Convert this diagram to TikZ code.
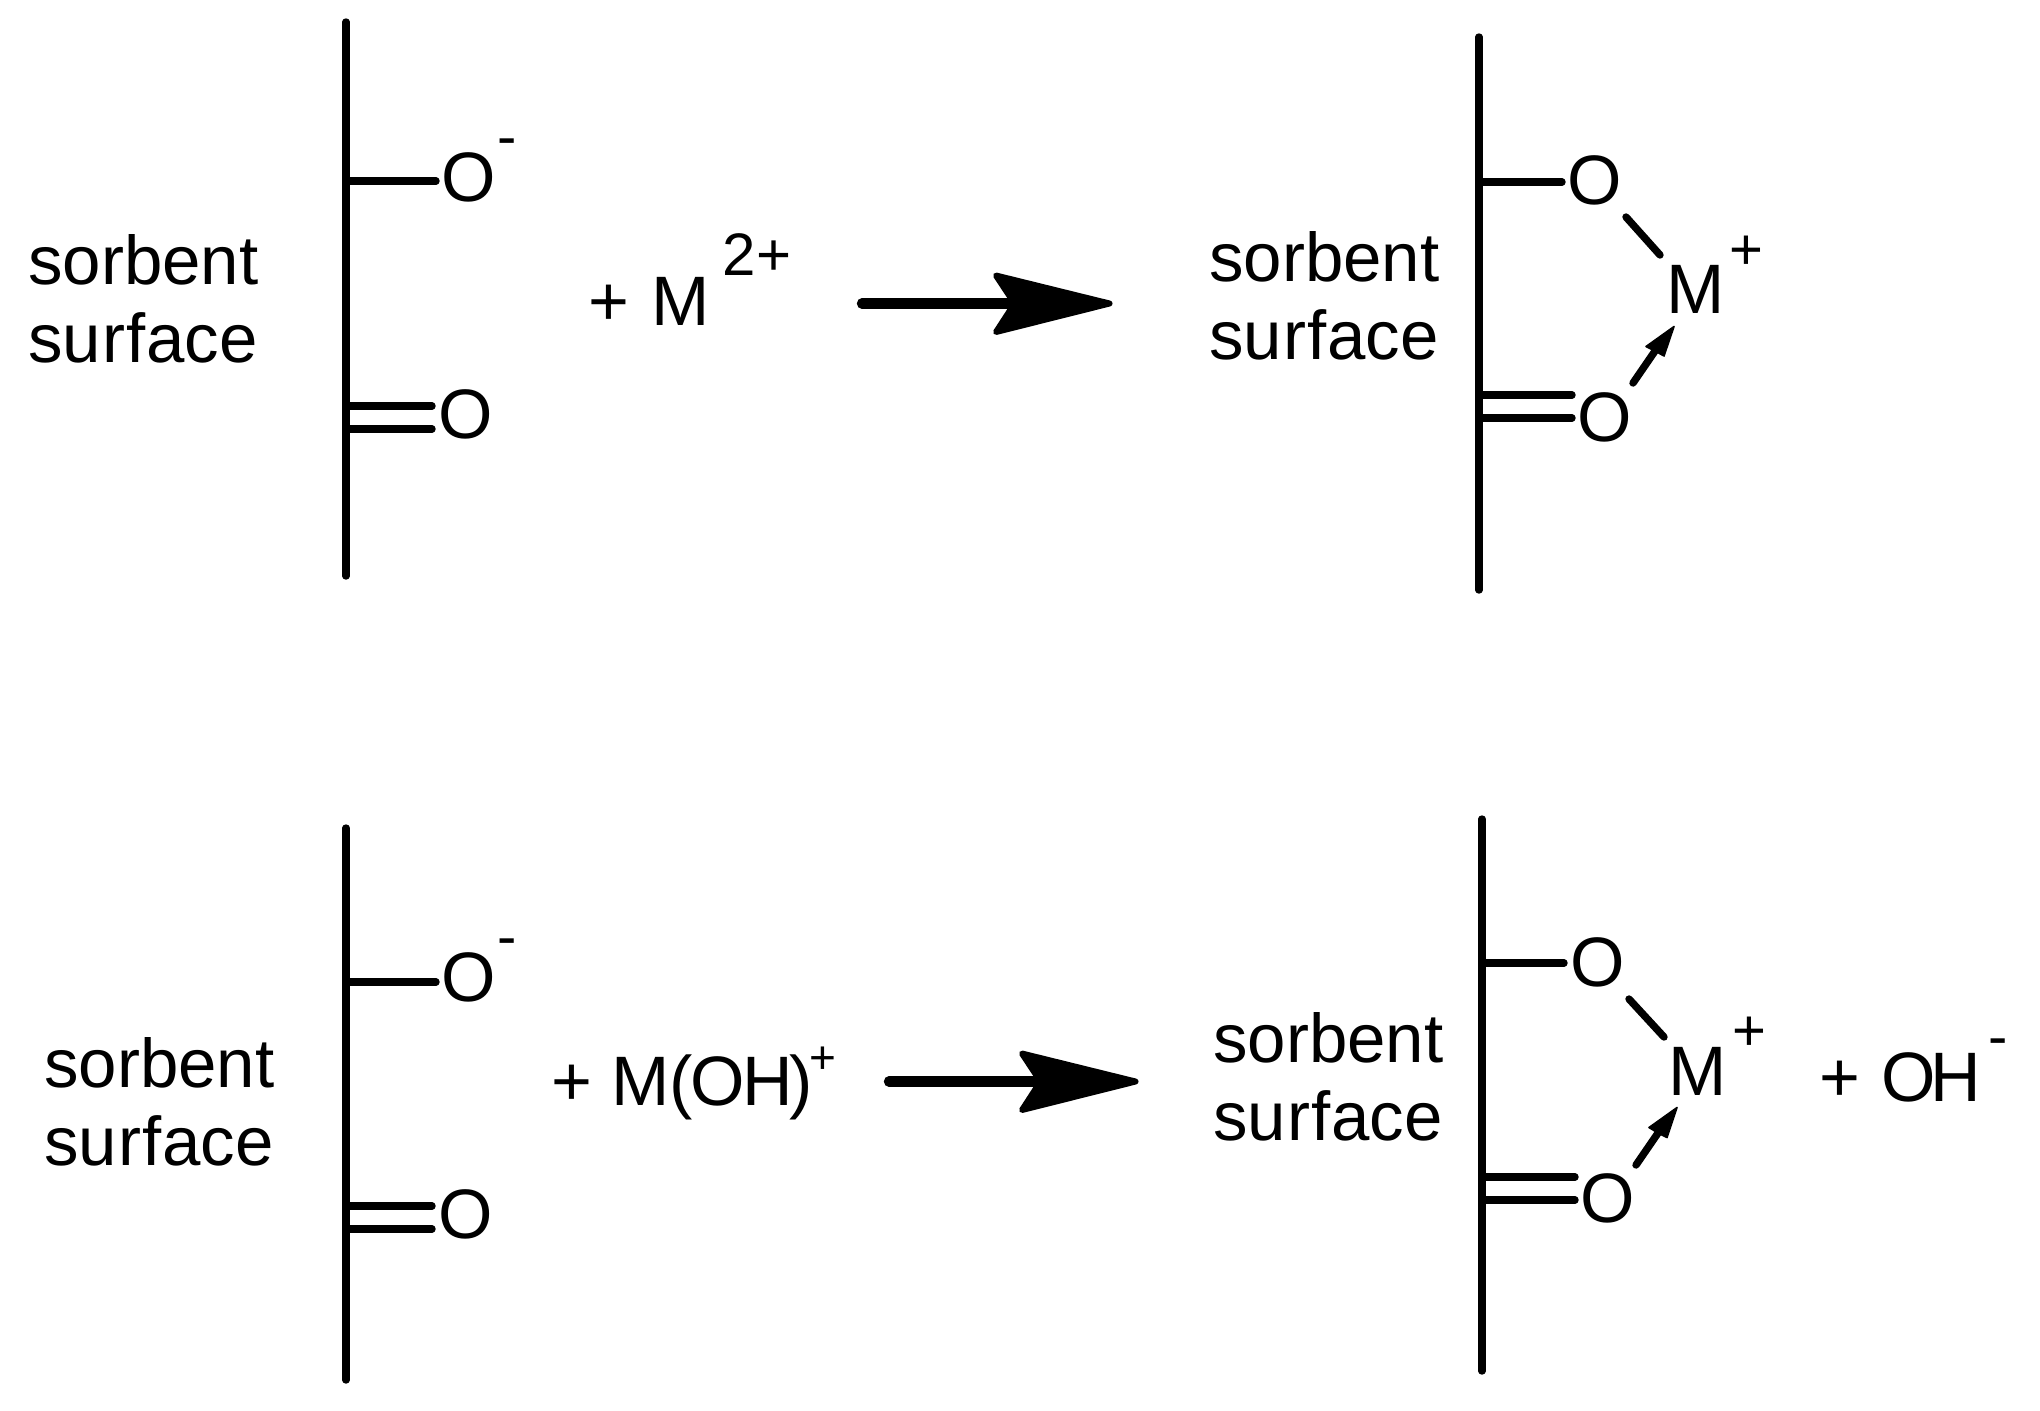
\documentclass[tikz,border=0pt]{standalone}
\usepackage{fontspec}
\setmainfont[Kerning=Off]{Liberation Sans}
\usetikzlibrary{arrows.meta}
\newcommand{\surfword}{su\kern.5pt r\kern.5pt f\kern.5pt ace}
\tikzset{
  x=0.5pt,y=-0.5pt,
  lab/.style={font=\fontsize{35}{35}\selectfont,inner sep=0pt,anchor=base},
  txt/.style={font=\fontsize{34.5}{34.5}\selectfont,inner sep=0pt,anchor=base west},
  supb/.style={font=\fontsize{30}{30}\selectfont,inner sep=0pt,anchor=base},
  supm/.style={font=\fontsize{29}{29}\selectfont,inner sep=0pt,anchor=base},
  sups/.style={font=\fontsize{23}{23}\selectfont,inner sep=0pt,anchor=base},
  wall/.style={line width=3.7pt,line cap=round},
  bond/.style={line width=3.7pt,line cap=round},
  shaft/.style={line width=5.2pt,line cap=round},
  bighead/.style={fill=black,draw=black,line width=3pt,line join=round},
  smallhead/.style={fill=black,draw=black,line width=0.8pt,line join=round}
}
\begin{document}
\begin{tikzpicture}
\useasboundingbox (0,0) rectangle (2040,1410);
% ---- top left
\coordinate (wa1) at (346,22); \coordinate (wa2) at (346,576);
\draw[wall] (wa1) -- (wa2);
\node[lab] (oa1) at (469,201) {O};
\node[supm] (ma1) at (507,156) {-};
\node[lab] (oa2) at (466,438) {O};
\coordinate (ba1) at (346,181); \coordinate (ba1e) at (436,181);
\draw[bond] (ba1) -- (ba1e);
\coordinate (ba2) at (349,406); \coordinate (ba2e) at (432,406);
\coordinate (ba3) at (349,429); \coordinate (ba3e) at (432,429);
\draw[bond] (ba2) -- (ba2e); \draw[bond] (ba3) -- (ba3e);
\node[txt] (ta1) at (28,284) {sorbent};
\node[txt] (ta2) at (28,362) {\surfword};
\node[lab] (pa) at (609,325) {+};
\node[lab] (ma) at (681,325) {M};
\node[supb] (ca) at (757,275) {2+};
\coordinate (aa1) at (862,303.5); \coordinate (aa2) at (1020,303.5);
\draw[shaft] (aa1) -- (aa2);
\coordinate (at) at (1109.5,303.5); \coordinate (au) at (996,275.5);
\coordinate (an) at (1014.5,303.5); \coordinate (ad) at (996,332);
\path[bighead] (at) -- (au) -- (an) -- (ad) -- cycle;
% ---- top right
\coordinate (wb1) at (1479,37); \coordinate (wb2) at (1479,590);
\draw[wall] (wb1) -- (wb2);
\node[lab] (ob1) at (1595,204) {O};
\node[lab] (ob2) at (1605,441) {O};
\node[lab] (mb) at (1696,313) {M};
\node[supm] (cb) at (1746,269) {+};
\coordinate (bb1) at (1479,182); \coordinate (bb1e) at (1562,182);
\draw[bond] (bb1) -- (bb1e);
\coordinate (bb2) at (1482,395); \coordinate (bb2e) at (1572,395);
\coordinate (bb3) at (1482,418); \coordinate (bb3e) at (1572,418);
\draw[bond] (bb2) -- (bb2e); \draw[bond] (bb3) -- (bb3e);
\coordinate (bb4) at (1626,217); \coordinate (bb4e) at (1660,255);
\draw[bond] (bb4) -- (bb4e);
\coordinate (bb5) at (1633,383); \coordinate (bb5e) at (1655,351);
\draw[bond] (bb5) -- (bb5e);
\coordinate (bh1) at (1674,326.5); \coordinate (bh2) at (1646,346.5);
\coordinate (bh3) at (1655,351); \coordinate (bh4) at (1664,356);
\path[smallhead] (bh1) -- (bh2) -- (bh3) -- (bh4) -- cycle;
\node[txt] (tb1) at (1209,281) {sorbent};
\node[txt] (tb2) at (1209,359) {\surfword};
% ---- bottom left
\coordinate (wc1) at (346,828); \coordinate (wc2) at (346,1380);
\draw[wall] (wc1) -- (wc2);
\node[lab] (oc1) at (469,1001) {O};
\node[supm] (mc1) at (507,956) {-};
\node[lab] (oc2) at (466,1238) {O};
\coordinate (bc1) at (346,982); \coordinate (bc1e) at (436,982);
\draw[bond] (bc1) -- (bc1e);
\coordinate (bc2) at (349,1206); \coordinate (bc2e) at (432,1206);
\coordinate (bc3) at (349,1229); \coordinate (bc3e) at (432,1229);
\draw[bond] (bc2) -- (bc2e); \draw[bond] (bc3) -- (bc3e);
\node[txt] (tc1) at (44,1087) {sorbent};
\node[txt] (tc2) at (44,1165) {\surfword};
\node[lab,anchor=base west] (pc) at (551,1105) {+ M\kern-0.5pt(\kern-1pt O\kern-1.2pt H\kern-1.5pt)};
\node[sups] (cc) at (823,1073) {+};
\coordinate (ac1) at (889,1081.5); \coordinate (ac2) at (1046,1081.5);
\draw[shaft] (ac1) -- (ac2);
\coordinate (ct) at (1135.5,1081.5); \coordinate (cu) at (1022,1053.5);
\coordinate (cn) at (1040.5,1081.5); \coordinate (cd) at (1022,1110);
\path[bighead] (ct) -- (cu) -- (cn) -- (cd) -- cycle;
% ---- bottom right
\coordinate (wd1) at (1482,819); \coordinate (wd2) at (1482,1371);
\draw[wall] (wd1) -- (wd2);
\node[lab] (od1) at (1598,986) {O};
\node[lab] (od2) at (1608,1222) {O};
\node[lab] (md) at (1698,1095) {M};
\node[supm] (cd) at (1749,1050) {+};
\coordinate (bd1) at (1482,963); \coordinate (bd1e) at (1564,963);
\draw[bond] (bd1) -- (bd1e);
\coordinate (bd2) at (1485,1177); \coordinate (bd2e) at (1575,1177);
\coordinate (bd3) at (1485,1200); \coordinate (bd3e) at (1575,1200);
\draw[bond] (bd2) -- (bd2e); \draw[bond] (bd3) -- (bd3e);
\coordinate (bd4) at (1629,999); \coordinate (bd4e) at (1664,1037);
\draw[bond] (bd4) -- (bd4e);
\coordinate (bd5) at (1636,1165); \coordinate (bd5e) at (1658,1133);
\draw[bond] (bd5) -- (bd5e);
\coordinate (dh1) at (1677,1107.5); \coordinate (dh2) at (1649,1127.5);
\coordinate (dh3) at (1658,1133); \coordinate (dh4) at (1667,1137.5);
\path[smallhead] (dh1) -- (dh2) -- (dh3) -- (dh4) -- cycle;
\node[txt] (td1) at (1213,1062) {sorbent};
\node[txt] (td2) at (1213,1140) {\surfword};
\node[lab,anchor=base west] (pd) at (1819,1101) {+\kern0.3em O\kern-2.5pt H};
\node[supm] (cd2) at (1998,1056) {-};
\end{tikzpicture}
\end{document}
